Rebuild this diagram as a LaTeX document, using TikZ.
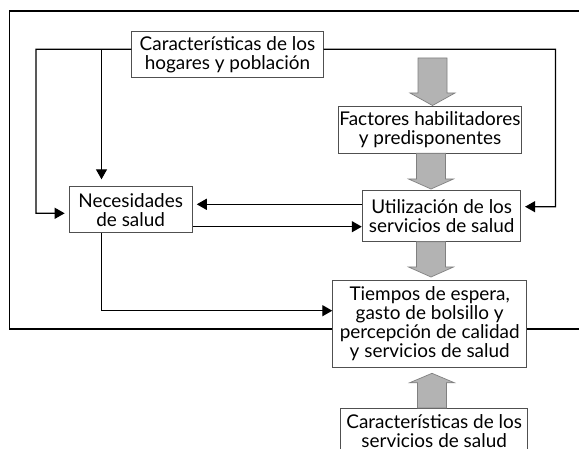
\documentclass[tikz,border=0pt]{standalone}
\usepackage{fontspec}
\setmainfont{Lato}
\usetikzlibrary{arrows.meta,calc}
\definecolor{fatgray}{HTML}{B3B3B3}
\definecolor{boxline}{HTML}{505050}
\tikzset{
  box/.style={draw=boxline, line width=0.8bp, fill=white, align=center, inner sep=0pt,
    font=\fontsize{19}{19}\selectfont},
  conn/.style={line width=1.3bp, -{Triangle[length=10bp,width=11bp]}},
  frame/.style={line width=1.5bp},
  fat/.style={fill=fatgray, draw=gray, line width=0.7bp, line join=miter}
}
% x center, y base, y tip, head length (signed)
\newcommand\fatarrow[4]{%
  \filldraw[fat] (#1-14.5,#2) -- (#1+14.5,#2) -- (#1+14.5,#3-#4) -- (#1+22.5,#3-#4)
    -- (#1,#3) -- (#1-22.5,#3-#4) -- (#1-14.5,#3-#4) -- cycle;}
\begin{document}
\begin{tikzpicture}[x=1bp,y=-1bp]
\useasboundingbox (0,0) rectangle (579,449);
\clip (0,0) rectangle (579,449);
\fill[white] (0,0) rectangle (579,449);
% outer frame
\coordinate (ftr) at (579,11);
\coordinate (ftl) at (9.3,11);
\coordinate (fbl) at (9.3,329);
\coordinate (fbr) at (579,329);
\draw[frame] (ftr) -- (ftl) -- (fbl) -- (fbr);

% nodes
\node[box, minimum width=191.6bp, minimum height=46bp] (hog) at (227.5,54.7)
  {Características de los\\hogares y población};
\node[box, minimum width=183.4bp, minimum height=47.3bp] (fac) at (430,129.7)
  {Factores habilitadores\\y predisponentes};
\node[box, minimum width=123.3bp, minimum height=46bp] (nec) at (130.7,209.7)
  {Necesidades\\de salud};
\node[box, minimum width=158bp, minimum height=51.7bp] (util) at (441.7,215.8)
  {Utilización de los\\servicios de salud};
\node[box, minimum width=194bp, minimum height=87.3bp] (tiem) at (429.7,323.7)
  {Tiempos de espera,\\gasto de bolsillo y\\percepción de calidad\\y servicios de salud};
\node[box, minimum width=187bp, minimum height=46bp] (serv) at (434.2,431)
  {Características de los\\servicios de salud};

% connectors
\coordinate (hl) at ($(hog.west)+(0,-5.4)$);
\coordinate (hr) at ($(hog.east)+(0,-5.4)$);
\draw[conn, shorten >=4bp] (hl) -- (36,49.3) |- ($(nec.west)+(0,3.6)$);
\draw[conn, shorten >=7bp] (101.5,49.3) -- (101.5,0 |- nec.north);
\draw[conn, shorten >=4bp] (hr) -- (555.5,49.3) |- ($(util.east)+(0,-9.1)$);
\draw[conn, shorten >=4bp] ($(util.west)+(0,-11.5)$) -- ($(nec.east)+(0,-5.4)$);
\draw[conn, shorten >=0.5bp] ($(nec.east)+(0,17)$) -- ($(util.west)+(0,10.9)$);
\draw[conn] (101.5,0 |- nec.south) |- ($(tiem.west)+(0,-13)$);

% fat arrows
\fatarrow{432.5}{58}{105.5}{12.5}
\fatarrow{431}{153.3}{189}{10}
\fatarrow{431}{241.7}{277}{10}
\fatarrow{432}{408}{373.3}{-9.5}
\end{tikzpicture}
\end{document}
